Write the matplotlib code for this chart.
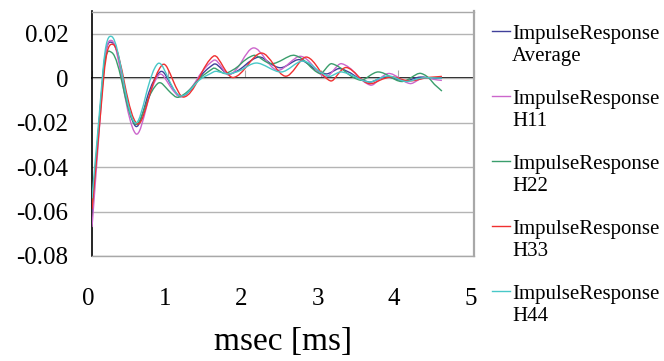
import matplotlib
matplotlib.use('Agg')
import matplotlib.pyplot as plt
import matplotlib.transforms as mtransforms
import numpy as np
from matplotlib.path import Path
from matplotlib.patches import PathPatch
from matplotlib.lines import Line2D

plt.rcParams['font.family'] = 'Liberation Serif'

# values (msec, amplitude)
t_avg = [0, 0.14, 0.27, 0.42, 0.57, 0.72, 0.89, 1.03, 1.17, 1.38, 1.59, 1.70, 1.80, 2.0, 2.18,
	2.32, 2.46, 2.59, 2.72, 2.88, 3.05, 3.15, 3.25, 3.43, 3.62, 3.74, 3.85, 3.97, 4.1, 4.2, 4.3, 4.45, 4.58]
v_avg = [-0.060, 0.0, 0.0159, -0.003, -0.0216, -0.009, 0.0028, -0.0028, -0.0083, -0.001, 0.0062, 0.004, 0.0018, 0.0057, 0.0095,
	0.007, 0.0047, 0.0065, 0.0083, 0.005, 0.0020, 0.003, 0.0043, 0.0013, -0.0017, -0.0005, 0.0006, -0.0003, -0.0012, -0.0003, 0.0005, 0.0, 0.0]

t_h11 = [0, 0.14, 0.26, 0.41, 0.57, 0.72, 0.87, 1.02, 1.17, 1.38, 1.59, 1.70, 1.80, 1.96, 2.11,
	2.27, 2.42, 2.58, 2.74, 2.9, 3.05, 3.16, 3.27, 3.46, 3.64, 3.76, 3.88, 4.02, 4.16, 4.26, 4.35, 4.47, 4.58]
v_h11 = [-0.067, -0.002, 0.0169, -0.004, -0.0249, -0.012, 0.0013, -0.0035, -0.0082, -0.0002, 0.008, 0.0048, 0.0015, 0.0075, 0.0136,
	0.0086, 0.0036, 0.0067, 0.0098, 0.0052, 0.0006, 0.0035, 0.0065, 0.0017, -0.0031, -0.0005, 0.0021, 0.0, -0.0024, -0.001, 0.0002, -0.0005, -0.001]

t_h22 = [0, 0.14, 0.26, 0.41, 0.56, 0.71, 0.86, 1.0, 1.14, 1.36, 1.58, 1.67, 1.76, 1.94, 2.11,
	2.23, 2.35, 2.5, 2.66, 2.83, 2.98, 3.06, 3.14, 3.32, 3.51, 3.63, 3.75, 3.9, 4.05, 4.18, 4.31, 4.45, 4.58]
v_h22 = [-0.058, -0.001, 0.0115, -0.0045, -0.0205, -0.0115, -0.0024, -0.0055, -0.0085, -0.002, 0.0043, 0.0032, 0.0022, 0.0062, 0.0102,
	0.0084, 0.0065, 0.0084, 0.0102, 0.0062, 0.0021, 0.0043, 0.0065, 0.0028, -0.0009, 0.001, 0.0028, 0.0007, -0.0015, 0.0003, 0.0021, -0.0015, -0.0058]

t_h33 = [0, 0.15, 0.28, 0.43, 0.59, 0.75, 0.92, 1.06, 1.2, 1.4, 1.59, 1.72, 1.85, 2.04, 2.22,
	2.38, 2.53, 2.67, 2.81, 2.97, 3.12, 3.22, 3.33, 3.48, 3.62, 3.77, 3.92, 4.05, 4.18, 4.35, 4.58]
v_h33 = [-0.059, -0.001, 0.0151, -0.003, -0.0205, -0.008, 0.006, -0.001, -0.0085, 0.0, 0.0099, 0.005, 0.0003, 0.006, 0.0113,
	0.006, 0.0009, 0.005, 0.0095, 0.004, -0.0012, 0.0018, 0.0048, 0.001, -0.0024, -0.0009, 0.0006, -0.0005, -0.0012, 0.0, 0.0008]

t_h44 = [0, 0.14, 0.26, 0.41, 0.56, 0.71, 0.86, 1.01, 1.16, 1.37, 1.59, 1.70, 1.80, 1.97, 2.14,
	2.31, 2.48, 2.62, 2.77, 2.93, 3.09, 3.18, 3.27, 3.45, 3.62, 3.75, 3.88, 4.0, 4.12, 4.3, 4.58]
v_h44 = [-0.054, 0.002, 0.0187, -0.001, -0.020, -0.007, 0.0065, -0.001, -0.008, -0.002, 0.0028, 0.0025, 0.002, 0.004, 0.0068,
	0.0048, 0.0028, 0.0053, 0.0077, 0.0043, 0.0009, 0.0018, 0.0028, 0.0005, -0.0017, -0.0003, 0.001, -0.0003, -0.0015, 0.0, 0.0]

series = [(t_avg, v_avg), (t_h11, v_h11), (t_h22, v_h22), (t_h33, v_h33), (t_h44, v_h44)]
legend_main = 'ImpulseResponse'
legend_sub = ['Average', 'H11', 'H22', 'H33', 'H44']
colors = ['#40409a', '#cc66cc', '#3a9e6c', '#f03030', '#48c8c8']

xticks = [0, 1, 2, 3, 4, 5]
yticks = [0.02, 0, -0.02, -0.04, -0.06, -0.08]
ytick_labels = ['0.02', '0', '-0.02', '-0.04', '-0.06', '-0.08']


# smoothed line like excel: cubic hermite pieces drawn as bezier curves
def smooth_path(t, v, k=1.5):
	t = np.asarray(t, float)
	v = np.asarray(v, float)
	n = len(t)
	m = np.zeros(n)
	m[0] = (v[1] - v[0]) / (t[1] - t[0])
	m[-1] = (v[-1] - v[-2]) / (t[-1] - t[-2])
	m[1:-1] = k * (v[2:] - v[:-2]) / (t[2:] - t[:-2])
	verts = [(t[0], v[0])]
	codes = [Path.MOVETO]
	for i in range(n - 1):
		h = t[i+1] - t[i]
		verts += [(t[i] + h/3, v[i] + m[i]*h/3),
			(t[i+1] - h/3, v[i+1] - m[i+1]*h/3),
			(t[i+1], v[i+1])]
		codes += [Path.CURVE4] * 3
	return Path(verts, codes)


W, H = 664, 361
fig = plt.figure(figsize=(W/100, H/100), dpi=100)
ax = fig.add_axes([92/W, 1-256/H, 382/W, 244.5/H])
ax.set_xlim(0, 5)
ax.set_ylim(-0.08, 0.03)

ax.set_yticks(yticks)
ax.set_yticklabels(ytick_labels)
ax.set_xticks(xticks)
ax.grid(axis='y', color='#b4b4b4', lw=1)
ax.set_axisbelow(True)
ax.tick_params(axis='y', length=0, pad=17, labelsize=18)
ax.tick_params(axis='x', length=0, pad=23, labelsize=18)

# excel puts the category numbers a bit left of the tick
shift = mtransforms.ScaledTranslation(-3.5/100, 0, fig.dpi_scale_trans)
for lbl in ax.get_xticklabels():
	lbl.set_transform(lbl.get_transform() + shift)

for s in ['top', 'right', 'bottom']:
	ax.spines[s].set_color('#a8a8a8')
	ax.spines[s].set_linewidth(1)
ax.spines['right'].set_linewidth(1.6)
ax.spines['left'].set_color('black')
ax.spines['left'].set_linewidth(1.2)

# x axis crosses at zero
sec = ax.secondary_xaxis(8/11)
sec.set_xticks(xticks)
sec.tick_params(direction='out', length=6, color='#a8a8a8', labeltop=False, labelbottom=False)
sec.spines['top'].set_color('black')
sec.spines['top'].set_linewidth(1.3)
sec.spines['bottom'].set_visible(False)

for (t, v), c in zip(series, colors):
	ax.add_patch(PathPatch(smooth_path(t, v), fill=False, edgecolor=c, lw=1, zorder=3))

ax.set_xlabel('msec [ms]', fontsize=24)
ax.xaxis.set_label_coords(0.5, -0.352)
ax.xaxis.label.set_va('center')

# legend on the right, line next to the first text row
for i, (sub, c) in enumerate(zip(legend_sub, colors)):
	base = 39 + 65*i
	fig.add_artist(Line2D([492/W, 510/W], [1-(base-8)/H]*2, color=c, lw=1, transform=fig.transFigure))
	fig.text(512/W, 1-base/H, legend_main, fontsize=15, va='baseline')
	fig.text(512/W, 1-(base+22)/H, sub, fontsize=15, va='baseline')

fig.savefig('out.png', dpi=100)
